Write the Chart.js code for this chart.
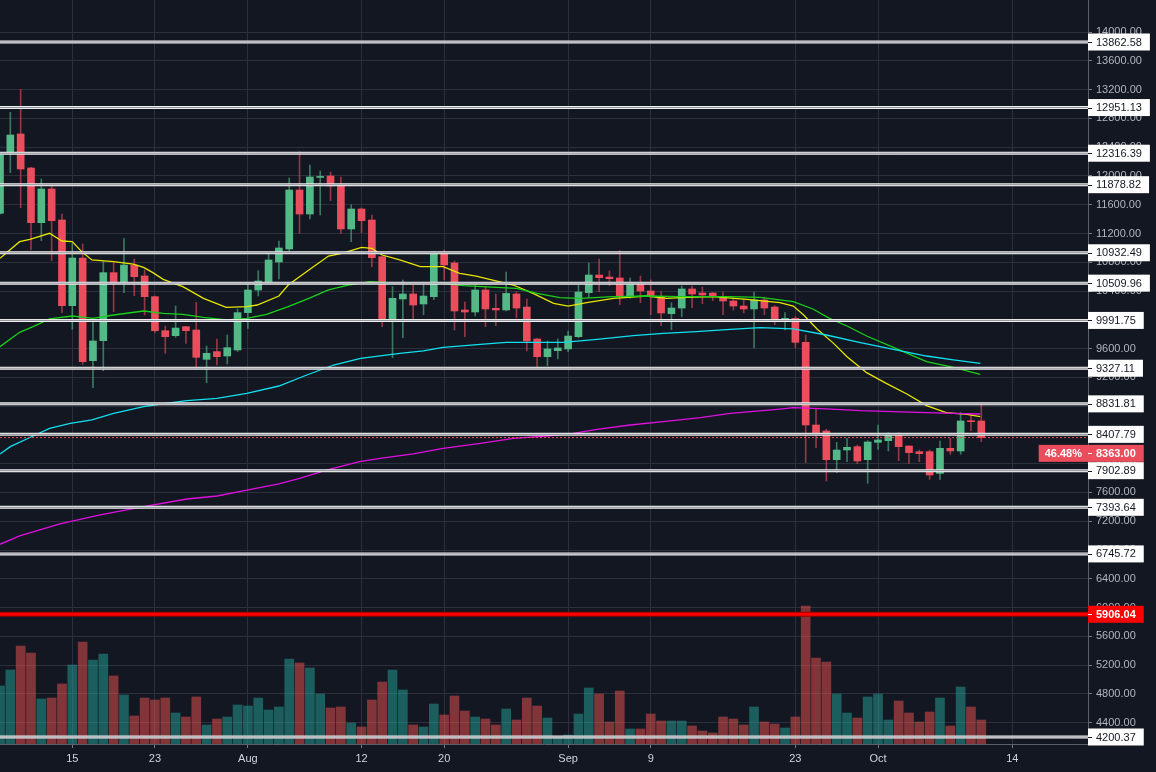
<!DOCTYPE html>
<html><head><meta charset="utf-8">
<script src="https://cdn.jsdelivr.net/npm/chart.js@4.4.1/dist/chart.umd.min.js"></script>
<style>html,body{margin:0;padding:0;background:#131722;overflow:hidden}#wrap{width:1156px;height:772px;position:relative}</style>
</head><body><div id="wrap"><canvas id="c" width="1156" height="772"></canvas></div>
<script>
// Daily candles, 2019-07-08 .. 2019-10-11 (x = days since 2019-07-08)
const firstDate = '2019-07-08';
const opens = [11481,12306,12584,12111,11351,11819,11388,10197,10860,9432,9710,10656,10531,10762,10610,10322,9849,9780,9905,9859,9451,9558,9497,9581,
10100,10415,10526,10804,10985,11805,11471,11980,12000,11870,11263,11541,11388,10878,10016,10290,10359,10220,10322,10925,10790,10137,10109,10415,10160,10137,10359,10178,9734,9488,9571,
9595,9766,10378,10623,10595,10582,10322,10512,10401,10322,10086,10164,10429,10373,10373,10317,10262,10192,10151,10276,10178,9984,10021,9687,8538,8455,8056,8190,8237,8056,
8297,8320,8390,8246,8167,8167,7866,8214,8177,8598,8594];
const highs = [12300,12885,13204,12120,11958,11861,11471,11064,11054,10007,10809,10795,11128,10846,10693,10330,9914,10192,9910,10243,9636,9734,9789,10151,
10517,10684,10925,11096,11972,12338,12153,12069,12055,11986,11601,11555,11457,10880,10461,10554,10484,10521,10948,10971,10818,10248,10484,10461,10359,10665,10392,10290,9740,9706,9734,
9845,10484,10790,10846,10679,10962,10582,10609,10554,10392,10239,10470,10470,10456,10380,10387,10308,10290,10387,10317,10197,10100,10044,9789,8760,8478,8297,8353,8260,8320,
8538,8432,8432,8250,8190,8190,8316,8353,8714,8691,8830];
const lows = [11470,12046,11559,10971,11101,10823,10100,9868,9381,9056,9293,10114,10378,10336,10067,9822,9534,9757,9673,9312,9126,9372,9386,9560,
9882,10331,10500,10568,10960,11203,11402,11457,11657,11203,11087,11212,10739,9905,9474,9752,9984,10072,10280,10554,9859,9766,10053,9905,9919,10125,10030,9567,9340,9363,9456,
9557,9750,10308,10392,10475,10211,10300,10239,10072,9919,9863,10044,10169,10225,10266,10072,10137,10095,9608,10072,9933,9859,9613,8014,8223,7759,7875,8028,8000,7727,
8200,8177,8042,8005,8028,7783,7783,8130,8130,8459,8306];
const closes = [12291,12570,12097,11351,11819,11379,10197,10860,9418,9706,10656,10531,10762,10600,10322,9849,9766,9886,9849,9479,9534,9488,9613,10100,
10415,10540,10832,10999,11805,11471,11986,11992,11861,11263,11541,11379,10864,10016,10299,10359,10206,10331,10925,10762,10123,10109,10415,10151,10137,10368,10164,9706,9488,9595,9609,
9775,10387,10623,10586,10572,10322,10489,10401,10322,10095,10164,10429,10359,10345,10331,10262,10192,10151,10276,10164,9984,10021,9687,8538,8432,8056,8190,8228,8038,8302,
8330,8390,8237,8154,8140,7843,8214,8177,8594,8584,8363];
const volumes = [14500,18500,24500,22750,11250,11500,15000,19750,25500,21000,22500,17000,12250,7000,11500,11000,11500,7750,6750,11750,4750,6250,6750,9750,
9500,11500,8500,9250,21250,20250,19000,12500,9000,9250,5250,4250,11000,15500,18500,13500,4750,4250,10000,7250,12000,8250,6750,6250,4750,8750,6000,11500,9500,6500,1750,
2250,7500,14000,12500,5500,13250,3750,3750,7500,5750,5750,5750,4500,3250,2750,6750,6250,4750,9250,5500,5000,4000,6750,34500,21500,20500,12500,7750,6500,11750,
12500,6000,10750,7750,5500,8000,11500,4500,14250,9250,6000];

// Moving averages (day, value)
const maFastDays = [0,1.9,2.9,4.8,6,7,7.9,8.9,11,12.9,13.9,14.8,15.8,17.7,19.7,21.9,23.9,24.9,27,27.9,29.9,31.8,33.1,35,36,37,38.7,40.7,42.9,44.5,46.1,47.4,49.7,51.6,53.6,55,56.8,59.4,62.6,64.5,66.5,69,72.3,75.5,76.8,77.8,79.1,80.7,82,83.9,85.8,87.8,89.7,91.6,93.6,94.9];
const maFastVals = [10855,11087,11119,11203,11096,11087,10948,10832,10809,10776,10730,10656,10563,10461,10299,10174,10183,10206,10331,10484,10693,10887,10925,11008,10994,10901,10832,10739,10739,10646,10609,10563,10484,10368,10229,10192,10239,10299,10331,10299,10313,10322,10285,10239,10192,10067,9873,9673,9488,9266,9117,8969,8807,8710,8686,8654];
const maMidDays = [0,1.9,3.2,4.8,7,9,11,13.9,15.8,17.7,19.7,21.9,23.9,25.8,27.9,29.9,31.8,33.7,35.8,38.7,40,42.9,44.9,48.1,50,52,54.2,56.1,59.4,62.6,65.8,70.7,73.6,76.8,78.7,80.3,82,83.9,86.5,89.7,92.3,94.9];
const maMidVals = [9627,9826,9905,10012,10053,10021,10067,10123,10090,10077,10035,9998,10021,10077,10183,10299,10415,10484,10531,10508,10507,10507,10475,10452,10438,10368,10308,10299,10322,10331,10322,10322,10313,10253,10151,10021,9914,9775,9618,9419,9340,9242];
const maSlowDays = [0,1,3.2,4.8,6.8,8.9,11,13.9,16.1,18.1,21,23.9,27,29.7,32.3,34.9,38.7,41,42.9,46.5,49,54.5,57.8,61.3,64.2,67.4,70.7,73.6,76.8,80,83.3,86.5,89.7,92.3,94.9];
const maSlowVals = [8135,8237,8385,8492,8561,8608,8700,8793,8839,8876,8909,8978,9080,9233,9372,9465,9534,9567,9618,9659,9687,9687,9729,9780,9812,9835,9868,9891,9873,9789,9683,9590,9497,9442,9395];
const maLongDays = [0,1.9,5.8,9.7,13.9,18.1,21,23.9,27,29,31.6,34.8,36.8,40,42.9,46.5,49.7,52.9,55.5,57.8,61,64.2,67.8,70.7,75.5,76.8,80,83.3,86.5,89.7,92.3,94.9];
const maLongVals = [6879,6995,7162,7287,7403,7509,7551,7634,7718,7797,7912,8028,8075,8135,8214,8283,8353,8385,8422,8478,8538,8584,8640,8700,8760,8779,8761,8737,8724,8710,8700,8691];

const levels = [13862.58,12951.13,12316.39,11878.82,10932.49,10509.96,9991.75,9327.11,8831.81,8407.79,7902.89,7393.64,6745.72,4200.37];
const keyLevel = 5906.04;
const lastPrice = 8363.00;
const lastChange = '46.48%';

const yTicks = [4400,4800,5200,5600,6000,6400,6800,7200,7600,8000,8400,8800,9200,9600,10000,10400,10800,11200,11600,12000,12400,12800,13200,13600,14000];
const xTickDays = [7,15,24,35,43,55,63,77,85,98];
const xTickLabels = ['15','23','Aug','12','20','Sep','9','23','Oct','14'];

const X_MIN = 0, X_MAX = 105.33, Y_MIN = 4103, Y_MAX = 14446.5, VOL_MAX = 186000;
const UP = '#53b987', DN = '#eb4d5c';
const FONT = '"Liberation Sans", Arial, sans-serif';

const idx = opens.map((_, i) => i);
const up = idx.map(i => closes[i] >= opens[i]);

const pairs = (d, v) => d.map((x, i) => ({x, y: v[i]}));
const hline = v => [{x: X_MIN, y: v}, {x: X_MAX, y: v}];
const lineDs = (data, color, w, order, extra) => Object.assign({type: 'line', data, borderColor: color, borderWidth: w, pointRadius: 0, fill: false, tension: 0, order, yAxisID: 'y'}, extra || {});

const datasets = [
  {type: 'bar', yAxisID: 'yv', order: 100, grouped: false, barThickness: 9,
   data: idx.map(i => ({x: i, y: volumes[i]})),
   backgroundColor: idx.map(i => up[i] ? 'rgba(38,166,154,0.5)' : 'rgba(239,83,80,0.5)'), borderWidth: 0},
  {type: 'bar', yAxisID: 'y', order: 90, grouped: false, barThickness: 1,
   data: idx.map(i => ({x: i, y: [lows[i], highs[i]]})),
   backgroundColor: idx.map(i => up[i] ? 'rgba(83,185,135,0.6)' : 'rgba(235,77,92,0.6)'), borderWidth: 0},
  {type: 'bar', yAxisID: 'y', order: 80, grouped: false, barThickness: 7, minBarLength: 1,
   data: idx.map(i => ({x: i, y: [opens[i], closes[i]]})),
   backgroundColor: idx.map(i => up[i] ? UP : DN), borderWidth: 0},
  lineDs(pairs(maLongDays, maLongVals), '#e010e0', 1.3, 70),
  lineDs(pairs(maSlowDays, maSlowVals), '#10e0f0', 1.3, 70),
  lineDs(pairs(maMidDays, maMidVals), '#18d018', 1.3, 70),
  lineDs(pairs(maFastDays, maFastVals), '#e6e600', 1.3, 70),
  lineDs(hline(lastPrice), DN, 1, 65, {borderDash: [2, 2]}),
];
levels.forEach(l => {
  datasets.push(lineDs(hline(l), '#f0f0f0', 3, 61));
  datasets.push(lineDs(hline(l), '#8c8f98', 1, 60));
});
datasets.push(lineDs(hline(keyLevel), '#9a0000', 5, 56));
datasets.push(lineDs(hline(keyLevel), '#ff0000', 3, 55));

const bgPlugin = {
  id: 'bg',
  beforeDraw(chart) {
    const c = chart.ctx; c.save(); c.fillStyle = '#131722'; c.fillRect(0, 0, chart.width, chart.height); c.restore();
  }
};

const labelPlugin = {
  id: 'priceLabels',
  afterDraw(chart) {
    const ctx = chart.ctx, ys = chart.scales.y, a = chart.chartArea;
    const tx = a.right + 8, H = 17;
    ctx.save();
    ctx.textBaseline = 'middle';
    const box = (text, cy, bg, fg, bold) => {
      ctx.font = (bold ? 'bold ' : '') + '11px ' + FONT;
      const w = ctx.measureText(text).width;
      ctx.fillStyle = bg;
      ctx.fillRect(a.right, cy - H / 2, tx - a.right + w + 8, H);
      ctx.strokeStyle = fg; ctx.lineWidth = 1;
      ctx.beginPath(); ctx.moveTo(a.right, Math.round(cy) + 0.5); ctx.lineTo(a.right + 4, Math.round(cy) + 0.5); ctx.stroke();
      ctx.fillStyle = fg; ctx.textAlign = 'left';
      ctx.fillText(text, tx, cy + 0.5);
    };
    let aboveBottom = -1e9;
    const pricePx = ys.getPixelForValue(lastPrice);
    levels.forEach(l => {
      const cy = ys.getPixelForValue(l);
      box(l.toFixed(2), cy, '#ffffff', '#131722', false);
      if (cy < pricePx + 1) aboveBottom = Math.max(aboveBottom, cy + H / 2);
    });
    box(keyLevel.toFixed(2), ys.getPixelForValue(keyLevel), '#ff0000', '#ffffff', true);
    // last price label, pushed below the level label it would overlap
    const cy = Math.max(pricePx, aboveBottom + 2 + H / 2);
    ctx.font = 'bold 11px ' + FONT;
    const wp = ctx.measureText(lastChange).width;
    const pctRight = a.right - 6;
    ctx.fillStyle = DN;
    ctx.fillRect(pctRight - wp - 6, cy - H / 2, a.right - (pctRight - wp - 6), H);
    box(lastPrice.toFixed(2), cy, DN, '#ffffff', true);
    ctx.font = 'bold 11px ' + FONT;
    ctx.fillStyle = '#ffffff'; ctx.textAlign = 'right';
    ctx.fillText(lastChange, pctRight, cy + 0.5);
    ctx.restore();
  }
};

Chart.defaults.font.family = FONT;

const noPad = s => { s.paddingTop = 0; s.paddingBottom = 0; s.paddingLeft = 0; s.paddingRight = 0; };

new Chart(document.getElementById('c'), {
  type: 'bar',
  data: {datasets},
  plugins: [bgPlugin, labelPlugin],
  options: {
    responsive: false, animation: false, devicePixelRatio: 1, events: [],
    layout: {padding: 0},
    plugins: {legend: {display: false}, tooltip: {enabled: false}},
    scales: {
      x: {
        type: 'linear', min: X_MIN, max: X_MAX, offset: false,
        afterBuildTicks: s => { s.ticks = xTickDays.map(v => ({value: v})); },
        afterFit: s => { s.height = 28; noPad(s); },
        grid: {color: '#2c303c', offset: false, tickLength: 4, tickColor: '#787b86'},
        border: {color: '#5d606b'},
        ticks: {color: '#d1d4dc', font: {size: 11}, padding: 4, maxRotation: 0, autoSkip: false,
          callback: v => { const k = xTickDays.indexOf(v); return k >= 0 ? xTickLabels[k] : ''; }}
      },
      y: {
        type: 'linear', position: 'right', min: Y_MIN, max: Y_MAX,
        afterBuildTicks: s => { s.ticks = yTicks.map(v => ({value: v})); },
        afterFit: s => { s.width = 68; noPad(s); },
        grid: {color: '#2c303c', tickLength: 4, tickColor: '#787b86'},
        border: {color: '#5d606b'},
        ticks: {color: '#b2b5be', font: {size: 11}, padding: 4, autoSkip: false, callback: v => Number(v).toFixed(2)}
      },
      yv: {type: 'linear', display: false, min: 0, max: VOL_MAX, afterFit: noPad}
    }
  }
});
</script>
</body></html>
